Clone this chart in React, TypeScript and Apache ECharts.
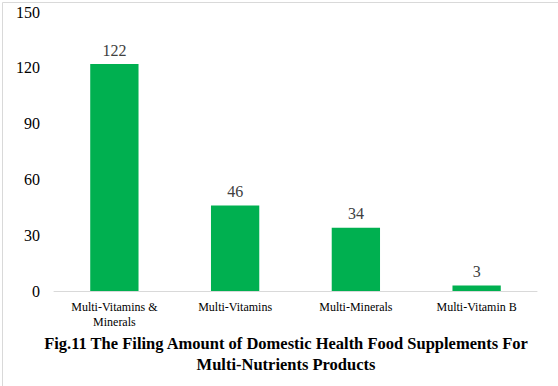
import React, { useEffect, useRef } from "react";
import * as echarts from "echarts";

const categories = ["Multi-Vitamins &\nMinerals", "Multi-Vitamins", "Multi-Minerals", "Multi-Vitamin B"];
const values = [122, 46, 34, 3];
const yTicks = { min: 0, max: 150, interval: 30 };
const titleLines = [
  "Fig.11 The Filing Amount of Domestic Health Food Supplements For",
  "Multi-Nutrients Products",
];

const FONT = "Liberation Serif";

export default function App() {
  const ref = useRef<HTMLDivElement>(null);
  useEffect(() => {
    document.body.style.margin = "0";
    const chart = echarts.init(ref.current!, null, { renderer: "svg" });
    chart.setOption({
      animation: false,
      backgroundColor: "#ffffff",
      textStyle: { fontFamily: FONT },
      grid: { left: 54, right: 21, top: 12, bottom: 95, containLabel: false },
      xAxis: {
        type: "category",
        data: categories,
        axisLine: { lineStyle: { color: "#d9d9d9", width: 1 } },
        axisTick: { show: false },
        axisLabel: {
          color: "#000",
          fontFamily: FONT,
          fontSize: 12,
          lineHeight: 15,
          margin: 8,
          interval: 0,
        },
      },
      yAxis: {
        type: "value",
        min: yTicks.min,
        max: yTicks.max,
        interval: yTicks.interval,
        splitLine: { show: false },
        axisLine: { show: false },
        axisTick: { show: false },
        axisLabel: { color: "#000", fontFamily: FONT, fontSize: 16, margin: 14 },
      },
      series: [
        {
          type: "bar",
          data: values,
          barWidth: "40%",
          itemStyle: { color: "#00b050" },
          label: {
            show: true,
            position: "top",
            distance: 6,
            color: "#404040",
            fontFamily: FONT,
            fontSize: 16,
          },
        },
      ],
      graphic: [
        {
          type: "rect",
          left: 0,
          top: 0,
          shape: { x: 0.5, y: 0.5, width: 557, height: 385 },
          style: { fill: "none", stroke: "#d9d9d9", lineWidth: 1 },
          silent: true,
        },
        {
          type: "text",
          x: 286,
          y: 343,
          style: {
            text: titleLines[0],
            fontFamily: FONT,
            fontSize: 16.5,
            fontWeight: "bold",
            fill: "#000",
            align: "center",
            verticalAlign: "middle",
          },
        },
        {
          type: "text",
          x: 286,
          y: 364,
          style: {
            text: titleLines[1],
            fontFamily: FONT,
            fontSize: 16.5,
            fontWeight: "bold",
            fill: "#000",
            align: "center",
            verticalAlign: "middle",
          },
        },
      ],
    });
    return () => chart.dispose();
  }, []);
  return (
    <div
      ref={ref}
      style={{ position: "absolute", left: 0, top: 0, width: 558, height: 386 }}
    />
  );
}
